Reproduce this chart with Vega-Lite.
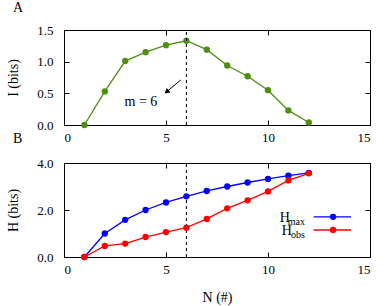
{
  "$schema": "https://vega.github.io/schema/vega-lite/v6.json",
  "padding": {"left": 6, "top": 0, "right": 5, "bottom": 5},
  "bounds": "flush",
  "spacing": 38,
  "datasets": {
    "info": [
      {"N": 1, "I": 0.0}, {"N": 2, "I": 0.53}, {"N": 3, "I": 1.01}, {"N": 4, "I": 1.15},
      {"N": 5, "I": 1.26}, {"N": 6, "I": 1.33}, {"N": 7, "I": 1.19}, {"N": 8, "I": 0.94},
      {"N": 9, "I": 0.77}, {"N": 10, "I": 0.55}, {"N": 11, "I": 0.23}, {"N": 12, "I": 0.04}
    ],
    "entropy": [
      {"N": 1, "H": 0.0, "series": "Hmax"}, {"N": 2, "H": 1.0, "series": "Hmax"},
      {"N": 3, "H": 1.58, "series": "Hmax"}, {"N": 4, "H": 2.0, "series": "Hmax"},
      {"N": 5, "H": 2.32, "series": "Hmax"}, {"N": 6, "H": 2.58, "series": "Hmax"},
      {"N": 7, "H": 2.81, "series": "Hmax"}, {"N": 8, "H": 3.0, "series": "Hmax"},
      {"N": 9, "H": 3.17, "series": "Hmax"}, {"N": 10, "H": 3.32, "series": "Hmax"},
      {"N": 11, "H": 3.46, "series": "Hmax"}, {"N": 12, "H": 3.58, "series": "Hmax"},
      {"N": 1, "H": 0.0, "series": "Hobs"}, {"N": 2, "H": 0.47, "series": "Hobs"},
      {"N": 3, "H": 0.57, "series": "Hobs"}, {"N": 4, "H": 0.85, "series": "Hobs"},
      {"N": 5, "H": 1.06, "series": "Hobs"}, {"N": 6, "H": 1.25, "series": "Hobs"},
      {"N": 7, "H": 1.62, "series": "Hobs"}, {"N": 8, "H": 2.07, "series": "Hobs"},
      {"N": 9, "H": 2.41, "series": "Hobs"}, {"N": 10, "H": 2.79, "series": "Hobs"},
      {"N": 11, "H": 3.26, "series": "Hobs"}, {"N": 12, "H": 3.56, "series": "Hobs"}
    ],
    "one": [{}]
  },
  "config": {
    "font": "Liberation Serif",
    "view": {"stroke": "black", "strokeWidth": 1},
    "axis": {
      "grid": false,
      "domainColor": "black",
      "tickColor": "black",
      "tickSize": -5,
      "labelFont": "Liberation Serif",
      "labelFontSize": 13,
      "labelColor": "black",
      "titleFont": "Liberation Serif",
      "titleFontSize": 14,
      "titleFontWeight": "normal",
      "titleColor": "black"
    },
    "axisX": {"labelPadding": 11, "titlePadding": 14},
    "axisY": {"labelPadding": 16, "titlePadding": 16},
    "title": {"font": "Liberation Serif", "fontSize": 14, "fontWeight": "normal", "anchor": "start", "frame": "group", "color": "black"}
  },
  "vconcat": [
    {
      "width": 306,
      "height": 95,
      "title": {"text": "A", "dx": -51, "offset": 9},
      "resolve": {"axis": {"x": "independent", "y": "independent"}},
      "layer": [
        {
          "data": {"name": "info"},
          "mark": {"type": "line", "color": "#4e8f10", "strokeWidth": 1.3, "point": {"filled": true, "size": 40, "color": "#4e8f10"}},
          "encoding": {
            "x": {"field": "N", "type": "quantitative", "scale": {"domain": [0, 15], "nice": false}, "axis": {"values": [0, 5, 10, 15], "title": null}},
            "y": {"field": "I", "type": "quantitative", "scale": {"domain": [0, 1.5], "nice": false}, "axis": {"values": [0, 0.5, 1, 1.5], "format": ".1f", "title": "I (bits)"}}
          }
        },
        {
          "data": {"name": "info"},
          "mark": {"type": "point", "opacity": 0},
          "encoding": {
            "x": {"field": "N", "type": "quantitative", "axis": {"orient": "top", "values": [0, 5, 10, 15], "labels": false, "title": null}},
            "y": {"field": "I", "type": "quantitative", "axis": {"orient": "right", "values": [0, 0.5, 1, 1.5], "labels": false, "title": null}}
          }
        },
        {
          "data": {"name": "one"},
          "mark": {"type": "rule", "color": "black", "strokeDash": [3, 3], "strokeWidth": 1},
          "encoding": {
            "x": {"datum": 6, "type": "quantitative", "axis": null},
            "y": {"datum": 0, "type": "quantitative", "axis": null},
            "y2": {"datum": 1.5}
          }
        },
        {
          "data": {"name": "one"},
          "mark": {"type": "rule", "color": "black", "strokeWidth": 1},
          "encoding": {
            "x": {"datum": 5.72, "type": "quantitative", "axis": null},
            "y": {"datum": 0.71, "type": "quantitative", "axis": null},
            "x2": {"datum": 5.03},
            "y2": {"datum": 0.524}
          }
        },
        {
          "data": {"name": "one"},
          "mark": {"type": "point", "shape": "triangle-up", "filled": true, "color": "black", "opacity": 1, "size": 35, "angle": 230},
          "encoding": {
            "x": {"datum": 5.03, "type": "quantitative", "axis": null},
            "y": {"datum": 0.524, "type": "quantitative", "axis": null}
          }
        },
        {
          "data": {"name": "one"},
          "mark": {"type": "text", "text": "m = 6", "fontSize": 14, "align": "center", "baseline": "middle", "color": "black"},
          "encoding": {
            "x": {"datum": 3.77, "type": "quantitative", "axis": null},
            "y": {"datum": 0.37, "type": "quantitative", "axis": null}
          }
        }
      ]
    },
    {
      "width": 306,
      "height": 94,
      "title": {"text": "B", "dx": -51, "offset": 11},
      "resolve": {"axis": {"x": "independent", "y": "independent"}},
      "layer": [
        {
          "data": {"name": "one"},
          "mark": {"type": "rule", "color": "black", "strokeDash": [3, 3], "strokeWidth": 1},
          "encoding": {
            "x": {"datum": 6, "type": "quantitative", "axis": null},
            "y": {"datum": 0, "type": "quantitative", "axis": null},
            "y2": {"datum": 4}
          }
        },
        {
          "data": {"name": "entropy"},
          "mark": {"type": "line", "strokeWidth": 1.3, "point": {"filled": true, "size": 40}},
          "encoding": {
            "x": {"field": "N", "type": "quantitative", "scale": {"domain": [0, 15], "nice": false}, "axis": {"values": [0, 5, 10, 15], "title": "N (#)"}},
            "y": {"field": "H", "type": "quantitative", "scale": {"domain": [0, 4], "nice": false}, "axis": {"values": [0, 2, 4], "format": ".1f", "title": "H (bits)"}},
            "color": {"field": "series", "type": "nominal", "scale": {"domain": ["Hmax", "Hobs"], "range": ["#0000ff", "#ff0000"]}, "legend": null}
          }
        },
        {
          "data": {"name": "entropy"},
          "mark": {"type": "point", "opacity": 0},
          "encoding": {
            "x": {"field": "N", "type": "quantitative", "axis": {"orient": "top", "values": [0, 5, 10, 15], "labels": false, "title": null}},
            "y": {"field": "H", "type": "quantitative", "axis": {"orient": "right", "values": [0, 2, 4], "labels": false, "title": null}}
          }
        },
        {
          "data": {"name": "one"},
          "mark": {"type": "rule", "color": "#0000ff", "strokeWidth": 1.3},
          "encoding": {
            "x": {"datum": 12.24, "type": "quantitative", "axis": null},
            "x2": {"datum": 14.07},
            "y": {"datum": 1.71, "type": "quantitative", "axis": null}
          }
        },
        {
          "data": {"name": "one"},
          "mark": {"type": "point", "filled": true, "size": 40, "color": "#0000ff", "opacity": 1},
          "encoding": {
            "x": {"datum": 13.19, "type": "quantitative", "axis": null},
            "y": {"datum": 1.71, "type": "quantitative", "axis": null}
          }
        },
        {
          "data": {"name": "one"},
          "mark": {"type": "rule", "color": "#ff0000", "strokeWidth": 1.3},
          "encoding": {
            "x": {"datum": 12.24, "type": "quantitative", "axis": null},
            "x2": {"datum": 14.07},
            "y": {"datum": 1.15, "type": "quantitative", "axis": null}
          }
        },
        {
          "data": {"name": "one"},
          "mark": {"type": "point", "filled": true, "size": 40, "color": "#ff0000", "opacity": 1},
          "encoding": {
            "x": {"datum": 13.19, "type": "quantitative", "axis": null},
            "y": {"datum": 1.15, "type": "quantitative", "axis": null}
          }
        },
        {
          "data": {"name": "one"},
          "mark": {"type": "text", "text": "H", "fontSize": 14, "align": "right", "baseline": "middle", "dx": -15, "dy": 1, "color": "black"},
          "encoding": {
            "x": {"datum": 11.81, "type": "quantitative", "axis": null},
            "y": {"datum": 1.71, "type": "quantitative", "axis": null}
          }
        },
        {
          "data": {"name": "one"},
          "mark": {"type": "text", "text": "max", "fontSize": 10, "align": "right", "baseline": "alphabetic", "dy": 8, "color": "black"},
          "encoding": {
            "x": {"datum": 11.81, "type": "quantitative", "axis": null},
            "y": {"datum": 1.71, "type": "quantitative", "axis": null}
          }
        },
        {
          "data": {"name": "one"},
          "mark": {"type": "text", "text": "H", "fontSize": 14, "align": "right", "baseline": "middle", "dx": -13, "dy": 1, "color": "black"},
          "encoding": {
            "x": {"datum": 11.81, "type": "quantitative", "axis": null},
            "y": {"datum": 1.15, "type": "quantitative", "axis": null}
          }
        },
        {
          "data": {"name": "one"},
          "mark": {"type": "text", "text": "obs", "fontSize": 10, "align": "right", "baseline": "alphabetic", "dy": 8, "color": "black"},
          "encoding": {
            "x": {"datum": 11.81, "type": "quantitative", "axis": null},
            "y": {"datum": 1.15, "type": "quantitative", "axis": null}
          }
        }
      ]
    }
  ]
}
